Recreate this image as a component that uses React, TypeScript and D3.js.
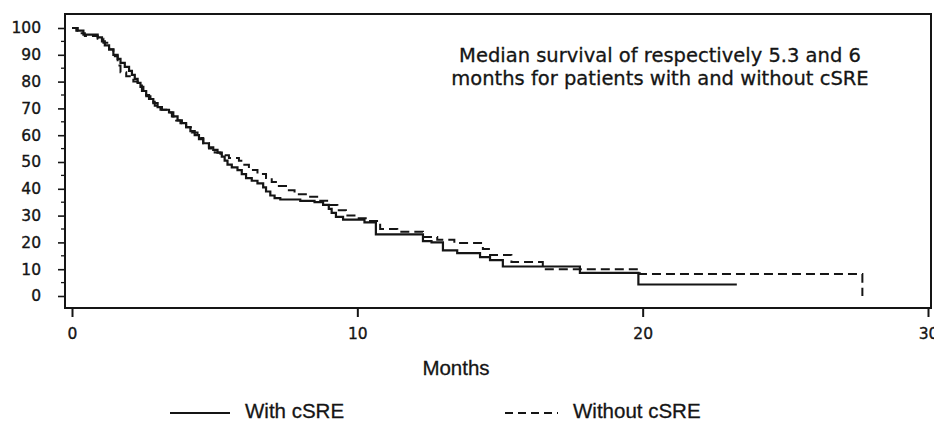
import React, { useEffect, useRef } from 'react';
import * as d3 from 'd3';

// Kaplan-Meier steps: month of each drop and the survival (%) after it
const withTimes = [0, 0.2, 0.4, 0.9, 1.05, 1.15, 1.3, 1.45, 1.6, 1.7, 1.85, 2.0, 2.1, 2.2, 2.3, 2.4, 2.5, 2.6, 2.7, 2.85, 3.0, 3.15, 3.4, 3.55, 3.7, 3.85, 4.0, 4.15, 4.3, 4.45, 4.6, 4.8, 4.95, 5.1, 5.25, 5.35, 5.45, 5.6, 5.8, 5.95, 6.1, 6.3, 6.5, 6.7, 6.8, 6.95, 7.1, 7.3, 8.0, 8.5, 8.8, 9.0, 9.1, 9.25, 9.5, 10.25, 10.65, 12.3, 12.6, 13.0, 13.5, 14.3, 14.65, 15.1, 17.8, 19.85];
const withSurv = [100, 99, 97.5, 96.5, 95, 93.5, 92, 90, 88.5, 87, 85.5, 84, 82.5, 81, 79.5, 78, 76.5, 75, 73.5, 72, 70.5, 69.5, 68.5, 67, 65.5, 64.5, 63, 61.5, 60, 58.5, 57, 55.5, 54.5, 53.5, 52, 50.5, 49, 48, 47, 45.5, 44, 43, 42, 40.5, 39, 37.5, 36.5, 36, 35.5, 35, 34, 32.5, 31, 29.5, 28.5, 27.5, 23, 20.5, 20, 17, 16, 14.5, 13.4, 11, 8.6, 4.3];
const withEnd = 23.3;

const withoutTimes = [0, 0.15, 0.3, 0.45, 0.9, 1.1, 1.3, 1.45, 1.6, 1.7, 1.9, 2.15, 2.3, 2.45, 2.6, 2.75, 2.9, 3.1, 3.3, 3.5, 3.65, 3.8, 4.0, 4.2, 4.4, 4.6, 4.8, 5.0, 5.2, 5.5, 5.85, 6.0, 6.2, 6.5, 6.8, 7.0, 7.2, 7.5, 7.8, 8.3, 8.7, 9.0, 9.3, 9.6, 9.9, 10.4, 10.8, 11.4, 12.3, 12.8, 13.4, 14.4, 14.65, 15.4, 16.5, 19.9, 27.7];
const withoutSurv = [100, 99, 98, 97, 96, 94.5, 92, 89.5, 86, 83.5, 82, 80, 78.5, 76.5, 74.5, 72.5, 71, 69.5, 68.5, 67, 65.5, 64.5, 63, 61, 59, 57, 55, 53.5, 52.5, 51.5, 50.5, 49, 47, 45.5, 44, 42.5, 41, 39.5, 38, 37, 35.5, 34, 32, 30, 29, 28, 25, 24, 22, 21, 19.8, 17.5, 15.3, 12.7, 10, 8.2, 0];

const xTicks = [0, 10, 20, 30];
const yTicks = [0, 10, 20, 30, 40, 50, 60, 70, 80, 90, 100];
const yMinor = [5, 15, 25, 35, 45, 55, 65, 75, 85, 95];

const note = ['Median survival of respectively 5.3 and 6', 'months for patients with and without cSRE'];
const legendLabels = ['With cSRE', 'Without cSRE'];

const ink = '#151515';

const App = () => {
  const ref = useRef<SVGSVGElement>(null);

  useEffect(() => {
    const svg = d3.select(ref.current);
    svg.selectAll('*').remove();

    const frame = { left: 65, top: 14, right: 931, bottom: 308 };
    const x = d3.scaleLinear().domain([0, 30]).range([72, 928]);
    const y = d3.scaleLinear().domain([0, 100]).range([296, 28]);

    svg.append('rect').attr('width', 934).attr('height', 423).attr('fill', '#fff');

    // box
    svg.append('rect')
      .attr('x', frame.left).attr('y', frame.top)
      .attr('width', frame.right - frame.left).attr('height', frame.bottom - frame.top)
      .attr('fill', 'none').attr('stroke', ink).attr('stroke-width', 2);

    // y axis
    const yAxis = svg.append('g')
      .attr('transform', `translate(${frame.left},0)`)
      .call(d3.axisLeft(y).tickValues(yTicks).tickSize(7).tickPadding(17));
    yAxis.select('.domain').remove();
    yAxis.selectAll('line').attr('stroke', ink).attr('stroke-width', 1.6);
    yAxis.selectAll('text')
      .attr('fill', ink)
      .attr('stroke', ink).attr('stroke-width', 0.35)
      .style('font-family', '"DejaVu Sans", Verdana, sans-serif')
      .style('font-size', '15.5px');

    svg.append('g').selectAll('line').data(yMinor).enter().append('line')
      .attr('x1', frame.left - 4).attr('x2', frame.left)
      .attr('y1', (d) => y(d)).attr('y2', (d) => y(d))
      .attr('stroke', ink).attr('stroke-width', 1.3);

    // x axis
    const xAxis = svg.append('g')
      .attr('transform', `translate(0,${frame.bottom})`)
      .call(d3.axisBottom(x).tickValues(xTicks).tickSize(9).tickPadding(11));
    xAxis.select('.domain').remove();
    xAxis.selectAll('line').attr('stroke', ink).attr('stroke-width', 2);
    xAxis.selectAll('text')
      .attr('fill', ink)
      .attr('stroke', ink).attr('stroke-width', 0.35)
      .style('font-family', '"DejaVu Sans", Verdana, sans-serif')
      .style('font-size', '15.5px');

    svg.append('text')
      .text('Months')
      .attr('x', 456).attr('y', 375)
      .attr('text-anchor', 'middle')
      .attr('fill', ink)
      .attr('stroke', ink).attr('stroke-width', 0.3)
      .style('font-family', '"Liberation Sans", Arial, sans-serif')
      .style('font-size', '20.5px');

    // curves
    const line = d3.line<[number, number]>()
      .x((d) => x(d[0]))
      .y((d) => y(d[1]))
      .curve(d3.curveStepAfter);

    const withPts: [number, number][] = withTimes.map((t, i) => [t, withSurv[i]]);
    withPts.push([withEnd, withSurv[withSurv.length - 1]]);
    const withoutPts: [number, number][] = withoutTimes.map((t, i) => [t, withoutSurv[i]]);

    svg.append('path')
      .datum(withoutPts)
      .attr('d', line)
      .attr('fill', 'none')
      .attr('stroke', ink)
      .attr('stroke-width', 2)
      .attr('stroke-dasharray', '9 5');

    svg.append('path')
      .datum(withPts)
      .attr('d', line)
      .attr('fill', 'none')
      .attr('stroke', ink)
      .attr('stroke-width', 2.2);

    // annotation
    svg.append('g').selectAll('text').data(note).enter().append('text')
      .text((d) => d)
      .attr('x', 660)
      .attr('y', (d, i) => 62 + i * 23)
      .attr('text-anchor', 'middle')
      .attr('fill', ink)
      .attr('stroke', ink).attr('stroke-width', 0.3)
      .style('font-family', '"DejaVu Sans", Verdana, sans-serif')
      .style('font-size', '19.5px');

    // legend
    const legendX = [170, 505];
    const legendW = [60, 53];
    const legend = svg.selectAll('.legend').data(legendLabels).enter().append('g').attr('class', 'legend');
    legend.append('line')
      .attr('x1', (d, i) => legendX[i]).attr('x2', (d, i) => legendX[i] + legendW[i])
      .attr('y1', 413).attr('y2', 413)
      .attr('stroke', ink).attr('stroke-width', 1.8)
      .attr('stroke-dasharray', (d, i) => (i === 0 ? null : '8 5'));
    legend.append('text')
      .text((d) => d)
      .attr('x', (d, i) => legendX[i] + legendW[i] + 15)
      .attr('y', 418)
      .attr('fill', ink)
      .attr('stroke', ink).attr('stroke-width', 0.3)
      .style('font-family', '"Liberation Sans", Arial, sans-serif')
      .style('font-size', '20.5px');
  }, []);

  return (
    <svg ref={ref} width={934} height={423} style={{ position: 'absolute', left: 0, top: 0 }} />
  );
};

export default App;
